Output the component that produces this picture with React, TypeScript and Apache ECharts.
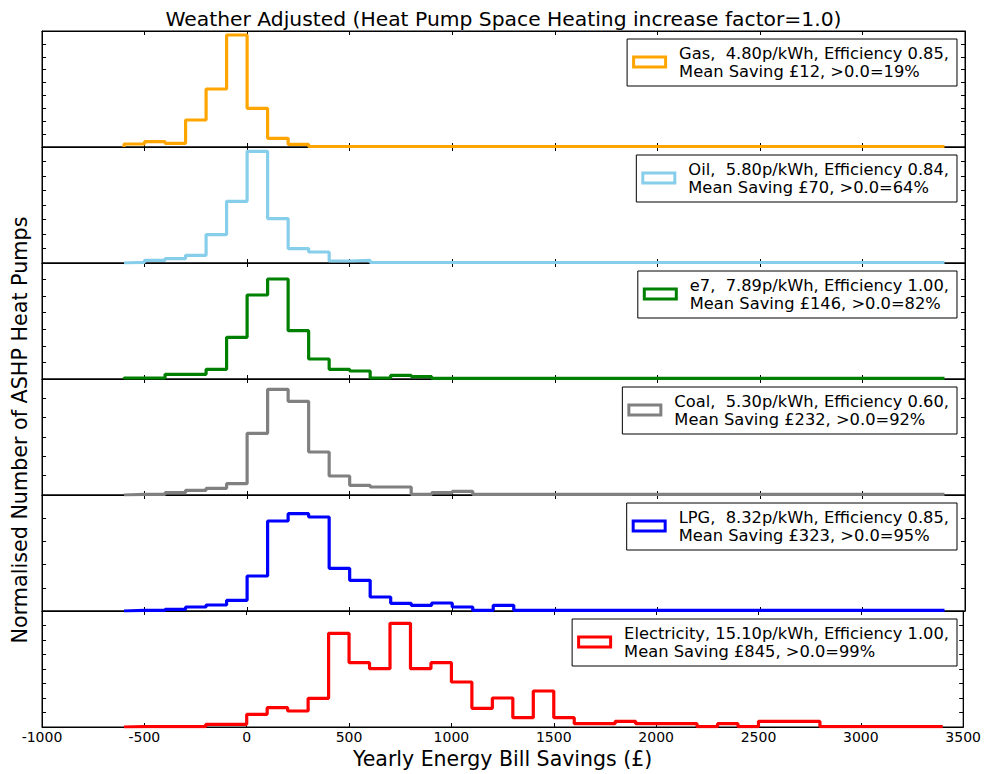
import React, { useEffect, useRef } from "react";
import * as echarts from "echarts";

// ---- Data (normalised histogram heights, bins of 100 £ starting at -600) ----
const BIN_START = -600;
const BIN_WIDTH = 100;

const gasValues = [3, 5.3, 3.7, 27, 58, 112, 38.7, 8.7, 2.7, 0.5, 0.5, 0.5, 0.5, 0.5, 0.5, 0.5, 0.5, 0.5, 0.5, 0.5, 0.5, 0.5, 0.5, 0.5, 0.5, 0.5, 0.5, 0.5, 0.5, 0.5, 0.5, 0.5, 0.5, 0.5, 0.5, 0.5, 0.5, 0.5, 0.5, 0.5];
const oilValues = [0.7, 2.7, 4.4, 7.7, 28.4, 61.7, 111.7, 44.4, 14.4, 11, 2, 2.7, 0.5, 0.5, 0.5, 0.5, 0.5, 0.5, 0.5, 0.5, 0.5, 0.5, 0.5, 0.5, 0.5, 0.5, 0.5, 0.5, 0.5, 0.5, 0.5, 0.5, 0.5, 0.5, 0.5, 0.5, 0.5, 0.5, 0.5, 0.5];
const e7Values = [1, 1, 4.7, 4.7, 9.7, 41.7, 84, 100, 48.3, 20, 9.7, 8, 1, 3.7, 2.3, 0.7, 0.7, 0.7, 0.7, 0.7, 0.7, 0.7, 0.7, 0.7, 0.7, 0.7, 0.7, 0.7, 0.7, 0.7, 0.7, 0.7, 0.7, 0.7, 0.7, 0.7, 0.7, 0.7, 0.7, 0.7];
const coalValues = [0.7, 0.7, 2.3, 4.7, 6.7, 11.3, 61.7, 105.7, 93.7, 43, 19, 9.7, 8, 8, 0.7, 2.3, 3.7, 0.7, 0.7, 0.7, 0.7, 0.7, 0.7, 0.7, 0.7, 0.7, 0.7, 0.7, 0.7, 0.7, 0.7, 0.7, 0.7, 0.7, 0.7, 0.7, 0.7, 0.7, 0.7, 0.7];
const lpgValues = [0.7, 0.7, 1.7, 4, 6, 10.7, 35, 90, 97.3, 94, 42.7, 30.7, 14, 7.7, 5.7, 8, 4, 0.7, 5.7, 0.7, 0.7, 0.7, 0.7, 0.7, 0.7, 0.7, 0.7, 0.7, 0.7, 0.7, 0.7, 0.7, 0.7, 0.7, 0.7, 0.7, 0.7, 0.7, 0.7, 0.7];
const electricityValues = [0.3, 0.3, 0.3, 0.3, 2.7, 2.7, 12.7, 19.3, 16, 28.7, 93.7, 64.3, 58.3, 103.7, 58.3, 64.3, 45, 18.7, 29, 9.3, 36, 9.3, 3.3, 3.3, 5.7, 3.3, 3.3, 3.3, 0.3, 3.3, 0.3, 5.7, 5.7, 5.7, 0.3, 0.3, 0.3, 0.3, 0.3, 0.3];

const seriesNames = ["Gas", "Oil", "e7", "Coal", "LPG", "Electricity"];
const seriesValues = [gasValues, oilValues, e7Values, coalValues, lpgValues, electricityValues];
const seriesColors = ["#FFA500", "#87CEEB", "#008000", "#808080", "#0000FF", "#FF0000"];
const legendLabels = [
  "Gas,  4.80p/kWh, Efficiency 0.85,\nMean Saving £12, >0.0=19%",
  "Oil,  5.80p/kWh, Efficiency 0.84,\nMean Saving £70, >0.0=64%",
  "e7,  7.89p/kWh, Efficiency 1.00,\nMean Saving £146, >0.0=82%",
  "Coal,  5.30p/kWh, Efficiency 0.60,\nMean Saving £232, >0.0=92%",
  "LPG,  8.32p/kWh, Efficiency 0.85,\nMean Saving £323, >0.0=95%",
  "Electricity, 15.10p/kWh, Efficiency 1.00,\nMean Saving £845, >0.0=99%",
];
const yTickCounts = [9, 8, 7, 6, 5, 8];

const X_MIN = -1000;
const X_MAX = 3500;
const X_INTERVAL = 500;
const Y_MAX = 116;

const TITLE = "Weather Adjusted (Heat Pump Space Heating increase factor=1.0)";
const X_NAME = "Yearly Energy Bill Savings (£)";
const Y_NAME = "Normalised Number of ASHP Heat Pumps";

// ---- Layout ----
const W = 984;
const H = 774;
const PLOT_LEFT = 42;
const PLOT_RIGHT = 965;
const PANEL_TOP = 31;
const PANEL_H = 116;
const FONT = "DejaVu Sans";

function stepPoints(values: number[]) {
  const pts: number[][] = [[BIN_START, 0]];
  values.forEach((v, i) => pts.push([BIN_START + i * BIN_WIDTH, v]));
  const end = BIN_START + values.length * BIN_WIDTH;
  pts.push([end, values[values.length - 1]]);
  pts.push([end, 0]);
  return pts;
}

export default function App() {
  const ref = useRef<HTMLDivElement>(null);

  useEffect(() => {
    if (!ref.current) return;
    const chart = echarts.init(ref.current, null, { renderer: "svg", width: W, height: H });

    const grids: any[] = [];
    const xAxes: any[] = [];
    const yAxes: any[] = [];
    const series: any[] = [];
    const legends: any[] = [];

    seriesNames.forEach((name, i) => {
      const top = PANEL_TOP + PANEL_H * i;
      grids.push({
        left: PLOT_LEFT,
        right: W - PLOT_RIGHT,
        top,
        height: PANEL_H,
        show: true,
        borderColor: "#000",
        borderWidth: 1,
        backgroundColor: "transparent",
      });
      const isLast = i === seriesNames.length - 1;
      ["bottom", "top"].forEach((pos) => {
        const showLabel = isLast && pos === "bottom";
        xAxes.push({
          gridIndex: i,
          type: "value",
          position: pos,
          min: X_MIN,
          max: X_MAX,
          interval: X_INTERVAL,
          axisLine: { show: true, onZero: false, lineStyle: { color: "#000", width: 1 } },
          axisTick: { show: true, inside: true, length: 4, lineStyle: { color: "#000" } },
          axisLabel: {
            show: showLabel,
            color: "#000",
            fontFamily: FONT,
            fontSize: 14,
            margin: 3,
            showMinLabel: true,
            showMaxLabel: true,
            formatter: (v: number) => String(v),
          },
          splitLine: { show: false },
          name: showLabel ? X_NAME : "",
          nameLocation: "middle",
          nameGap: 21,
          nameTextStyle: { color: "#000", fontFamily: FONT, fontSize: 20.5 },
        });
      });
      ["left", "right"].forEach((pos) => {
        yAxes.push({
          gridIndex: i,
          type: "value",
          position: pos,
          min: 0,
          max: Y_MAX,
          interval: Y_MAX / yTickCounts[i],
          axisLine: { show: true, onZero: false, lineStyle: { color: "#000", width: 1 } },
          axisTick: { show: true, inside: true, length: 4, lineStyle: { color: "#000" } },
          axisLabel: { show: false },
          splitLine: { show: false },
        });
      });
      series.push({
        type: "line",
        name,
        xAxisIndex: i * 2,
        yAxisIndex: i * 2,
        data: stepPoints(seriesValues[i]),
        step: "end",
        showSymbol: false,
        symbol: "none",
        clip: true,
        color: seriesColors[i],
        lineStyle: { width: 3.2, color: seriesColors[i] },
        itemStyle: { color: seriesColors[i] },
        z: 3,
      });
      legends.push({
        show: true,
        data: [name],
        right: W - 957,
        top: top + 8,
        orient: "horizontal",
        padding: [5, 8, 6, 5],
        itemWidth: 35,
        itemHeight: 13,
        icon: "path://M0,0H35V13H0Z M3,3V10H32V3Z",
        itemStyle: { borderWidth: 0 },
        backgroundColor: "#fff",
        borderColor: "#000",
        borderWidth: 1,
        borderRadius: 0,
        selectedMode: false,
        formatter: () => legendLabels[i],
        textStyle: {
          color: "#000",
          fontFamily: FONT,
          fontSize: 16.3,
          lineHeight: 18,
          padding: [0, 0, 0, 7],
        },
        z: 10,
      });
    });

    chart.setOption({
      animation: false,
      backgroundColor: "#fff",
      textStyle: { fontFamily: FONT },
      grid: grids,
      xAxis: xAxes,
      yAxis: yAxes,
      series,
      legend: legends,
      graphic: [
        {
          type: "text",
          x: (PLOT_LEFT + PLOT_RIGHT) / 2,
          y: 19,
          style: {
            text: TITLE,
            fill: "#000",
            font: `20.3px '${FONT}'`,
            align: "center",
            verticalAlign: "middle",
          },
        },
        {
          type: "text",
          x: 20,
          y: 430,
          rotation: Math.PI / 2,
          style: {
            text: Y_NAME,
            fill: "#000",
            font: `20.7px '${FONT}'`,
            align: "center",
            verticalAlign: "middle",
          },
        },
      ],
    });

    return () => chart.dispose();
  }, []);

  return (
    <div
      ref={ref}
      style={{ position: "fixed", left: 0, top: 0, width: W, height: H, background: "#fff" }}
    />
  );
}
